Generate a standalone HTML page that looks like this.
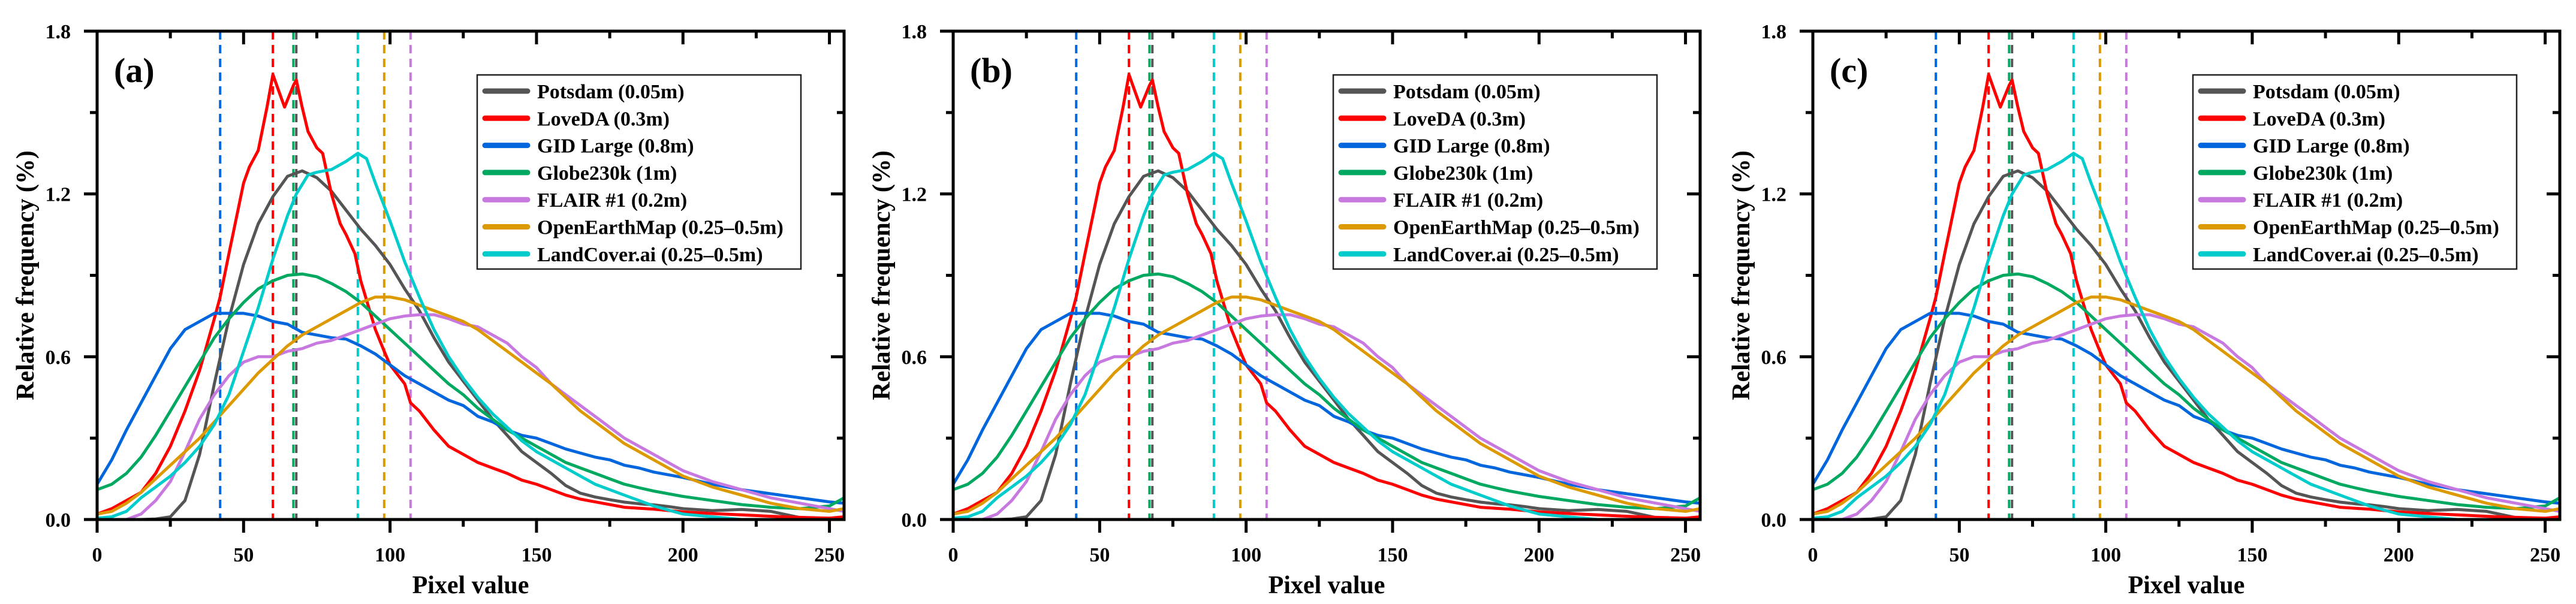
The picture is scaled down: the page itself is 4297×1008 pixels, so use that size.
<!DOCTYPE html>
<html><head><meta charset="utf-8"><style>
html,body{margin:0;padding:0;background:#fff;}
svg{display:block;font-family:"Liberation Serif",serif;font-weight:bold;}
</style></head><body>
<svg id="fig" width="4297" height="1008" viewBox="0 0 4297 1008" xmlns="http://www.w3.org/2000/svg"></svg>
<script>
const xs = [0,5,10,15,20,25,30,35,40,45,50,55,60,65,70,75,80,85,90,95,100,105,110,115,120,125,130,135,140,145,150,155,160,165,170,175,180,185,190,195,200,210,220,230,240,250,255];
const potsdam = [0,0,0,0,0.002,0.01,0.07,0.24,0.5,0.74,0.94,1.09,1.19,1.265,1.285,1.26,1.21,1.14,1.07,1.01,0.94,0.85,0.77,0.67,0.58,0.51,0.44,0.37,0.31,0.25,0.21,0.17,0.125,0.097,0.083,0.073,0.064,0.058,0.054,0.048,0.04,0.033,0.037,0.03,0.007,0.004,0];
const lovedaX = [0,5,10,15,20,25,30,35,40,42,45,50,52,55,58,60,62,64,67,68,70,72,75,77,80,83,85,88,90,95,98,100,105,107,110,115,120,125,130,135,140,145,150,155,160,165,170,175,180,190,200,210,220,230,240,250,255];
const loveda = [0.02,0.04,0.07,0.1,0.17,0.27,0.4,0.55,0.74,0.82,0.98,1.24,1.3,1.36,1.52,1.64,1.58,1.52,1.6,1.62,1.52,1.43,1.37,1.35,1.2,1.09,1.05,0.98,0.88,0.7,0.62,0.57,0.5,0.43,0.4,0.33,0.27,0.24,0.21,0.19,0.17,0.145,0.13,0.11,0.09,0.075,0.065,0.055,0.045,0.038,0.028,0.022,0.017,0.012,0.008,0.005,0.01];
const gid = [0.13,0.22,0.33,0.43,0.53,0.63,0.7,0.73,0.76,0.76,0.76,0.75,0.73,0.72,0.69,0.68,0.67,0.665,0.64,0.61,0.57,0.53,0.5,0.47,0.44,0.42,0.38,0.36,0.33,0.31,0.3,0.28,0.26,0.245,0.23,0.22,0.2,0.19,0.175,0.165,0.155,0.13,0.11,0.095,0.08,0.065,0.06];
const globe = [0.11,0.13,0.17,0.23,0.31,0.4,0.49,0.58,0.67,0.74,0.8,0.85,0.88,0.9,0.905,0.895,0.87,0.84,0.8,0.75,0.7,0.65,0.6,0.55,0.5,0.46,0.41,0.37,0.33,0.3,0.27,0.24,0.21,0.19,0.17,0.15,0.13,0.117,0.105,0.095,0.085,0.07,0.055,0.045,0.04,0.05,0.08];
const flair = [0,0,0,0.02,0.07,0.14,0.25,0.37,0.46,0.53,0.58,0.6,0.6,0.62,0.63,0.65,0.66,0.68,0.7,0.72,0.74,0.75,0.755,0.755,0.74,0.72,0.71,0.68,0.65,0.6,0.56,0.5,0.46,0.42,0.38,0.34,0.3,0.27,0.24,0.21,0.18,0.14,0.11,0.08,0.06,0.04,0.03];
const oem = [0.02,0.03,0.06,0.1,0.15,0.2,0.25,0.3,0.36,0.42,0.48,0.54,0.59,0.64,0.68,0.71,0.74,0.77,0.8,0.82,0.82,0.81,0.79,0.77,0.75,0.73,0.7,0.66,0.62,0.58,0.54,0.5,0.45,0.4,0.36,0.32,0.28,0.25,0.22,0.19,0.16,0.12,0.09,0.06,0.04,0.03,0.04];
const lcX = [0,5,10,15,20,25,30,35,40,45,50,55,60,65,68,72,75,80,85,89,92,95,100,105,110,115,120,125,130,135,140,145,150,155,160,165,170,175,180,185,190,195,200,210,220,255];
const landcover = [0.005,0.01,0.03,0.08,0.12,0.16,0.21,0.27,0.35,0.46,0.62,0.78,0.96,1.12,1.2,1.27,1.28,1.29,1.32,1.35,1.33,1.24,1.1,0.95,0.82,0.7,0.6,0.52,0.45,0.39,0.34,0.29,0.25,0.22,0.19,0.16,0.13,0.11,0.09,0.07,0.05,0.035,0.02,0.01,0,0];
const seriesNames = ["Potsdam (0.05m)","LoveDA (0.3m)","GID Large (0.8m)","Globe230k (1m)","FLAIR #1 (0.2m)","OpenEarthMap (0.25–0.5m)","LandCover.ai (0.25–0.5m)"];
const seriesColors = ["#555555","#ff0000","#0066dd","#00a860","#c879e0","#dd9900","#00cccc"];
const meanLines = [68,60,42,67,107,98,89];
const xTicks = [0,50,100,150,200,250];
const yTicks = [0,0.6,1.2,1.8];
const yTickLabels = ["0.0","0.6","1.2","1.8"];
const panelLabels = ["(a)","(b)","(c)"];
const panelLefts = [162,1590,3024];

const NS="http://www.w3.org/2000/svg";
const svg=document.getElementById('fig');
function mk(tag,attrs,parent){const e=document.createElementNS(NS,tag);for(const k in attrs)e.setAttribute(k,attrs[k]);(parent||svg).appendChild(e);return e;}
const W=1246, TOP=52, BOT=867;
const seriesX=[xs,lovedaX,xs,xs,xs,xs,lcX];
const seriesY=[potsdam,loveda,gid,globe,flair,oem,landcover];

panelLefts.forEach((L,pi)=>{
  const sx=v=>L+v/255*W, sy=v=>BOT-v/1.8*(BOT-TOP);
  const g=mk('g',{});
  
  
  // mean dashed lines
  meanLines.forEach((m,i)=>{
    const l=mk('line',{x1:sx(m),x2:sx(m),y1:TOP,y2:BOT,stroke:seriesColors[i],'stroke-width':4,'stroke-dasharray':'14 9'},g);
    
    
  });
  // series
  seriesY.forEach((ys,i)=>{
    const X=seriesX[i];
    const d=ys.map((v,k)=>(k?'L':'M')+sx(X[k]).toFixed(1)+' '+sy(v).toFixed(1)).join(' ');
    const p=mk('path',{d:d,fill:'none',stroke:seriesColors[i],'stroke-width':5,'stroke-linejoin':'round'},g);
    
    
  });
  // frame
  const fr=mk('rect',{x:L,y:TOP,width:W,height:BOT-TOP,fill:'none',stroke:'#000','stroke-width':5},g);
  
  
  // x ticks
  for(let v=0;v<=255;v+=25){
    const major=v%50===0, len=major?22:12;
    mk('line',{x1:sx(v),x2:sx(v),y1:BOT,y2:BOT+len,stroke:'#000','stroke-width':5},g);
    mk('line',{x1:sx(v),x2:sx(v),y1:TOP,y2:TOP+len,stroke:'#000','stroke-width':5},g);
  }
  xTicks.forEach(v=>{
    const t=mk('text',{x:sx(v),y:937,'font-size':34,'text-anchor':'middle'},g);t.textContent=v;
    
    
  });
  // y ticks
  for(let k=0;k<=6;k++){
    const v=k*0.3, major=k%2===0, len=major?22:12;
    mk('line',{x1:L-len,x2:L,y1:sy(v),y2:sy(v),stroke:'#000','stroke-width':5},g);
    mk('line',{x1:L+W-len,x2:L+W,y1:sy(v),y2:sy(v),stroke:'#000','stroke-width':5},g);
  }
  yTicks.forEach((v,i)=>{
    const t=mk('text',{x:L-44,y:sy(v)+12,'font-size':34,'text-anchor':'end'},g);t.textContent=yTickLabels[i];
    
    
  });
  const xt=mk('text',{x:L+W/2,y:990,'font-size':42,'text-anchor':'middle'},g);xt.textContent='Pixel value';
  
  
  const yt=mk('text',{x:0,y:0,'font-size':42,'text-anchor':'middle',transform:`translate(${L-106},${(TOP+BOT)/2}) rotate(-90)`},g);yt.textContent='Relative frequency (%)';
  
  
  const pl=mk('text',{x:L+28,y:137,'font-size':58},g);pl.textContent=panelLabels[pi];
  
  
  // legend
  const lg=mk('g',{},g);
  
  
  mk('rect',{x:L+634,y:125,width:540,height:324,fill:'#fff',stroke:'#222','stroke-width':2.5},lg);
  seriesNames.forEach((n,i)=>{
    const y=152+i*45.3;
    const e=mk('g',{},lg);
    
    
    mk('line',{x1:L+647,x2:L+718,y1:y,y2:y,stroke:seriesColors[i],'stroke-width':9,'stroke-linecap':'round'},e);
    const t=mk('text',{x:L+734,y:y+12,'font-size':34},e);t.textContent=n;
  });
});
</script>
</body></html>
